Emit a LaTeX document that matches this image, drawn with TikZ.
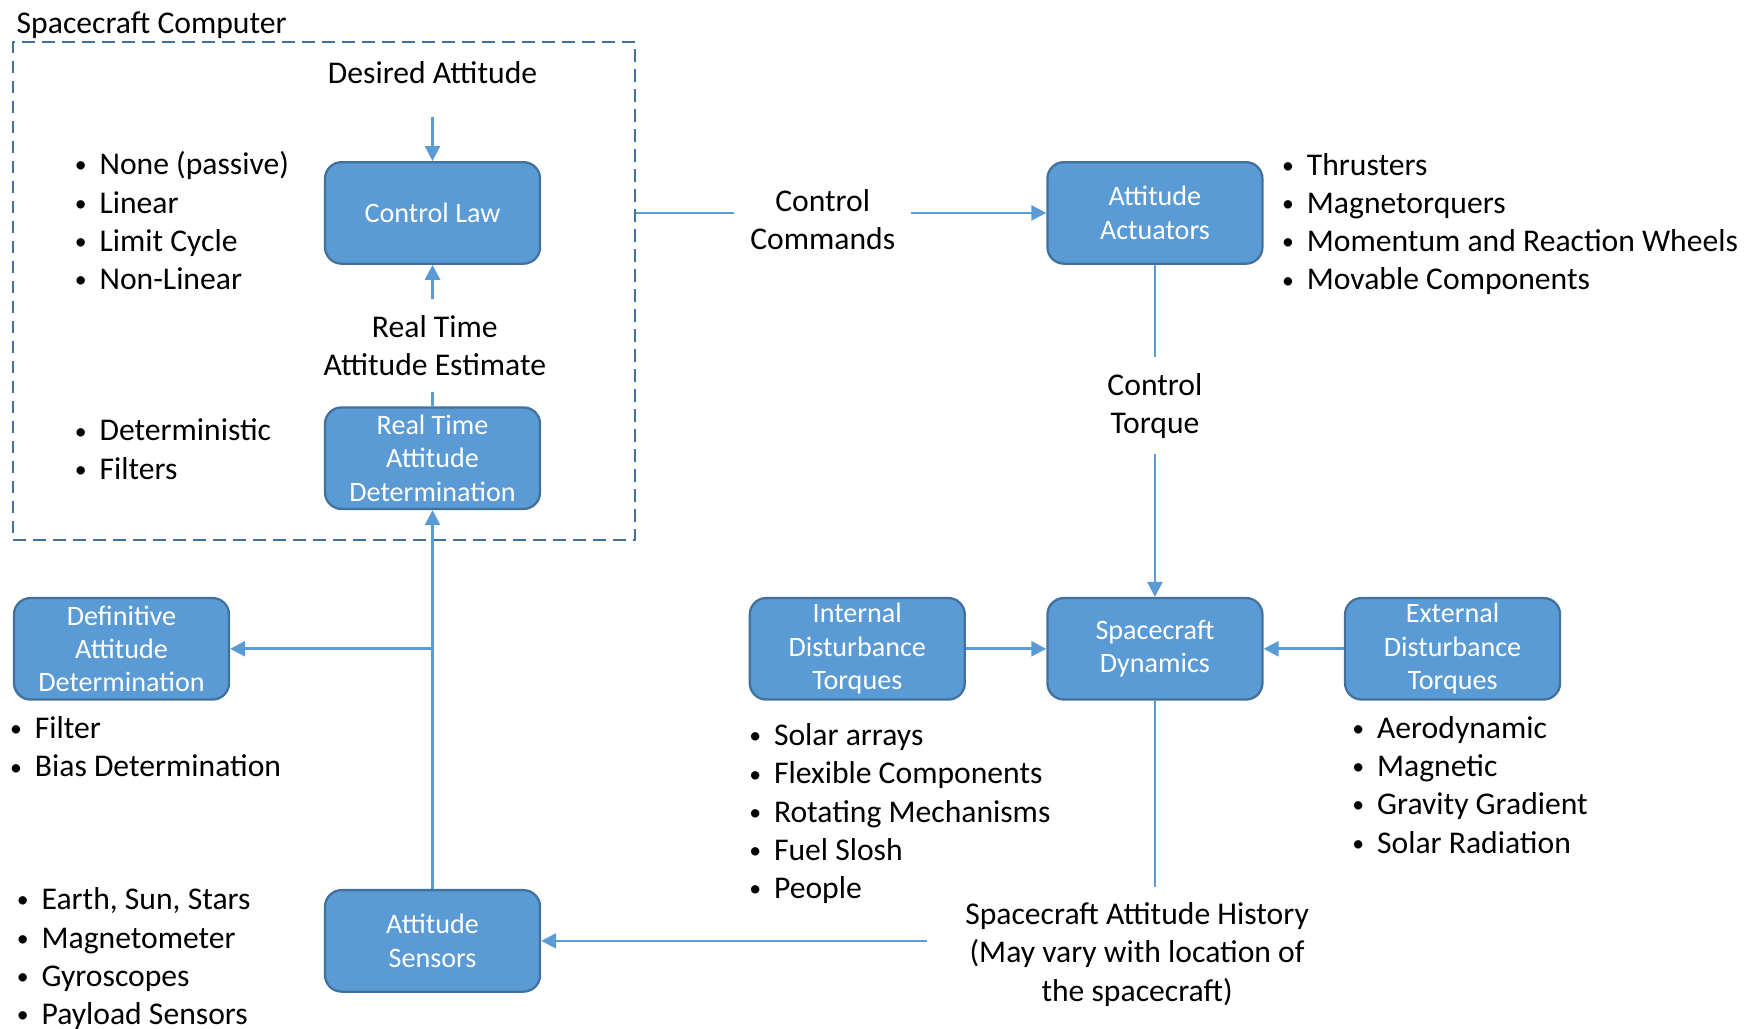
\documentclass[tikz,border=0pt]{standalone}
\usepackage{fontspec}
\usepackage{graphicx}
\setmainfont{Carlito}
\usetikzlibrary{arrows.meta}

\definecolor{boxfill}{HTML}{5B9BD5}
\definecolor{boxline}{HTML}{41719C}

% small bullet with a fixed hanging gap
\newcommand{\bl}{\makebox[0.535cm][l]{\hspace{0.04cm}\raisebox{0.06em}{\scalebox{0.75}{\textbullet}}}}

\begin{document}
\begin{tikzpicture}[x=0.0223cm,y=-0.0223cm,
    block/.style={draw=boxline, line width=1.3pt, fill=boxfill, rounded corners=0.33cm,
      minimum width=4.3cm, minimum height=2.03cm, inner sep=0pt,
      text=white, align=center, font=\fontsize{16}{19}\selectfont},
    lbl/.style={align=center, outer sep=0.2cm, font=\fontsize{18}{21.8}\selectfont},
    items/.style={align=left, anchor=west, inner sep=0pt, font=\fontsize{18}{21.8}\selectfont},
    frame/.style={draw=boxline, line width=1.1pt, dash pattern=on 0.25cm off 0.15cm,
      minimum width=12.44cm, minimum height=9.95cm},
    link/.style={draw=boxfill, line width=1.5pt},
    flow/.style={link, -{Triangle[width=0.3cm,length=0.3cm]}}]
  \useasboundingbox (0,0) rectangle (1568,923);

  % spacecraft computer
  \node[frame] (computer) at (291,261) {};
  \node[lbl, anchor=west, inner sep=0pt, outer sep=0pt] (comptitle) at (15,23) {Spacecraft Computer};
  \node[lbl] (desired) at (388,65) {Desired Attitude};
  \node[block] (law) at (388,191) {Control Law};
  \node[lbl] (est) at (390,310) {Real Time\\Attitude Estimate};
  \node[block] (rtad) at (388,411) {Real Time\\Attitude\\Determination};
  \node[items] (lawitems) at (65,198) {\bl None (passive)\\\bl Linear\\\bl Limit Cycle\\\bl Non-Linear};
  \node[items] (rtaditems) at (65,403) {\bl Deterministic\\\bl Filters};

  % actuators and dynamics
  \node[lbl] (cmd) at (738,197) {Control\\Commands};
  \node[block] (act) at (1036,191) {Attitude\\Actuators};
  \node[items] (actitems) at (1148,201) {\bl Thrusters\\\bl Magnetorquers\\\bl Momentum and Reaction Wheels\\\bl Movable Components};
  \node[lbl] (torque) at (1036,364) {Control\\Torque};
  \node[block] (dyn) at (1036,582) {Spacecraft\\Dynamics};
  \node[block] (idt) at (769,582) {Internal\\Disturbance\\Torques};
  \node[block] (edt) at (1303,582) {External\\Disturbance\\Torques};
  \node[items] (idtitems) at (670,730) {\bl Solar arrays\\\bl Flexible Components\\\bl Rotating Mechanisms\\\bl Fuel Slosh\\\bl People};
  \node[items] (edtitems) at (1211,704) {\bl Aerodynamic\\\bl Magnetic\\\bl Gravity Gradient\\\bl Solar Radiation};
  \node[lbl] (hist) at (1020,856) {Spacecraft Attitude History\\(May vary with location of\\the spacecraft)};

  % sensing
  \node[block] (sens) at (388,844) {Attitude\\Sensors};
  \node[block] (dad) at (109,582) {Definitive\\Attitude\\Determination};
  \node[items] (daditems) at (7,670) {\bl Filter\\\bl Bias Determination};
  \node[items] (sensitems) at (13,860) {\bl Earth, Sun, Stars\\\bl Magnetometer\\\bl Gyroscopes\\\bl Payload Sensors};

  % connectors
  \draw[flow, shorten <=0.35cm] (desired) -- (law);
  \draw[flow] (est.north -| law) -- (law);
  \draw[link] (rtad) -- (rtad |- est.south);
  \draw[link] (computer.east |- law) -- (cmd.west |- law);
  \draw[flow] (cmd.east |- act) -- (act);
  \draw[link] (act) -- (torque);
  \draw[flow] (torque) -- (dyn);
  \draw[flow] (idt) -- (dyn);
  \draw[flow] (edt) -- (dyn);
  \draw[link] (dyn) -- (dyn |- hist.north);
  \draw[flow, shorten <=0.45cm] (hist.west |- sens) -- (sens);
  \draw[flow] (sens) -- (rtad);
  \draw[flow] (sens |- dad) -- (dad);
\end{tikzpicture}
\end{document}
